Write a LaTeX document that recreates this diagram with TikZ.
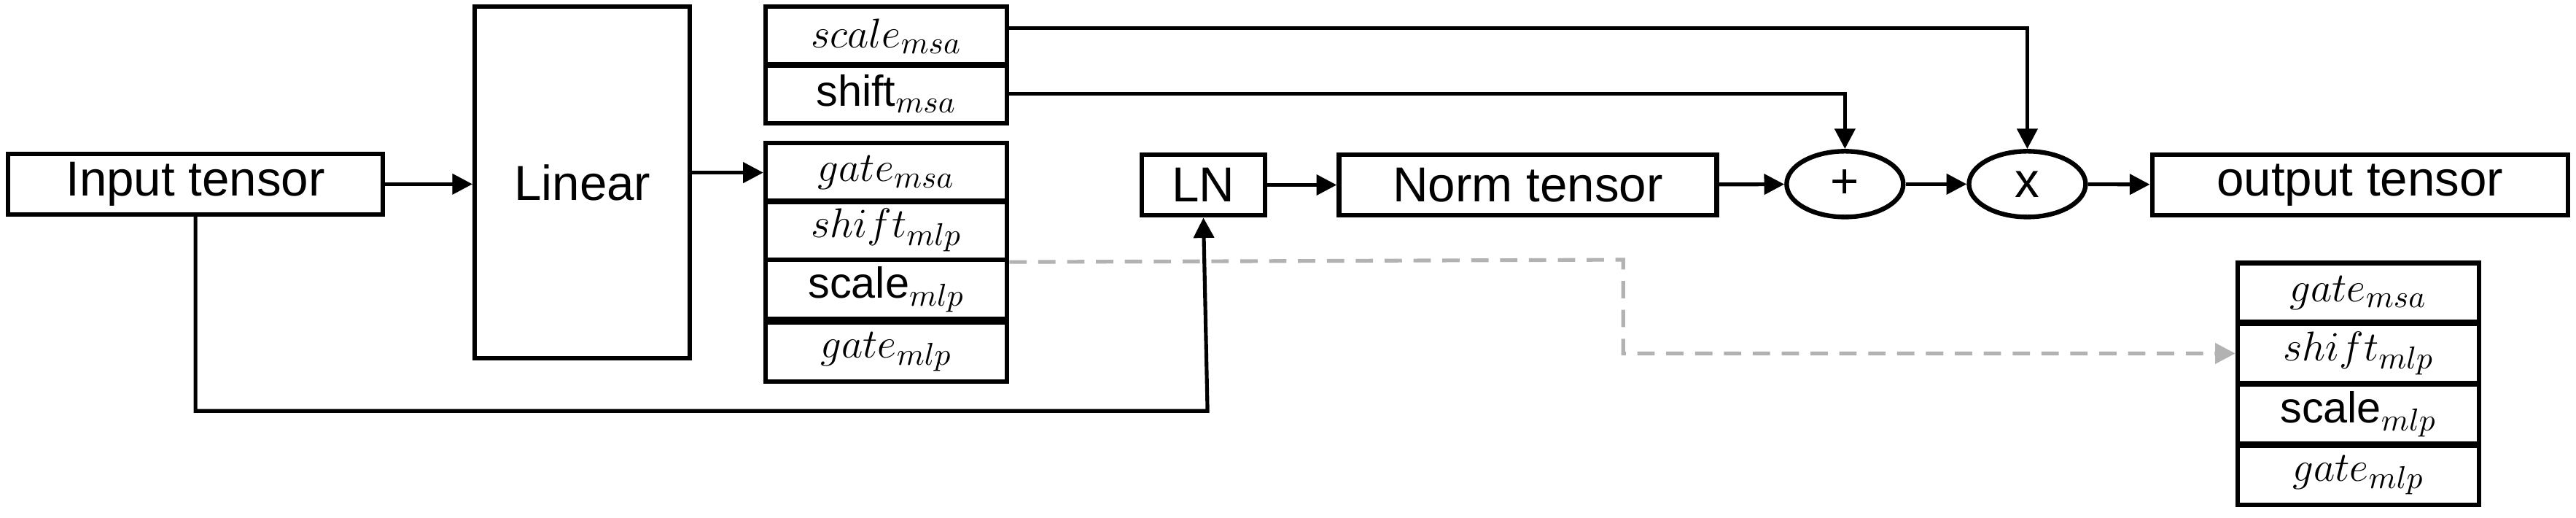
\documentclass[tikz,border=0pt]{standalone}
\usepackage{fontspec}
\setmainfont{Liberation Sans}
\usepackage{tikz}
\usetikzlibrary{arrows.meta, shapes.geometric, positioning, calc}

\tikzset{
    blk/.style={draw, line width=1.6pt, minimum height=0.74cm, inner sep=0pt, font=\fontsize{17}{20}\selectfont},
    prm/.style={draw, line width=1.6pt, minimum width=2.94cm, minimum height=0.72cm, inner sep=0pt, font=\fontsize{15}{18}\selectfont},
    op/.style={draw, ellipse, line width=1.6pt, minimum width=1.42cm, minimum height=0.8cm, inner sep=0pt, font=\fontsize{17}{20}\selectfont},
    arr/.style={line width=1.3pt, -{Triangle[length=7pt, width=7pt]}},
    dsh/.style={line width=1.3pt, gray!60, dash pattern=on 6pt off 4pt, -{Triangle[length=7pt, width=7pt]}}
}

\begin{document}
\begin{tikzpicture}[x=0.02cm, y=-0.02cm]
    \useasboundingbox (0,0) rectangle (1568,315);

    % Main row
    \node[blk, minimum width=4.56cm] (inp) at (119,112) {Input tensor};
    \node[blk, minimum width=2.62cm, minimum height=4.28cm] (lin) at (354.5,111) {Linear};
    \node[blk, minimum width=1.5cm] (ln) at (732.5,112.5) {LN};
    \node[blk, minimum width=4.6cm] (norm) at (930,112.5) {Norm tensor};
    \node[op] (add) at (1123,112) {+};
    \node[op] (mul) at (1234,112) {x};
    \node[blk, minimum width=5.06cm] (out) at (1436.5,112.5) {output tensor};

    % Modulation parameters
    \node[prm] (scmsa) at (539.5,22) {$scale_{msa}$};
    \node[prm] (shmsa) at (539.5,57) {shift$_{msa}$};
    \node[prm] (gmsa) at (539.5,105) {$gate_{msa}$};
    \node[prm] (shmlp) at (539.5,140) {$shift_{mlp}$};
    \node[prm] (scmlp) at (539.5,176) {scale$_{mlp}$};
    \node[prm] (gmlp) at (539.5,214) {$gate_{mlp}$};

    % Kept for the MLP branch
    \node[prm] (rgmsa) at (1435.5,178) {$gate_{msa}$};
    \node[prm] (rshmlp) at (1435.5,215) {$shift_{mlp}$};
    \node[prm] (rscmlp) at (1435.5,252) {scale$_{mlp}$};
    \node[prm] (rgmlp) at (1435.5,289) {$gate_{mlp}$};

    % Connections
    \coordinate (low) at (735,250);
    \coordinate (top) at (0,17);
    \coordinate (turn) at (988,158);
    \draw[arr] (inp) -- (lin.west |- inp);
    \draw[arr] (lin.east |- gmsa) -- (gmsa);
    \draw[arr] (inp.south) |- (low) -- (ln.south);
    \draw[arr] (ln) -- (norm);
    \draw[arr] (norm) -- (add);
    \draw[arr] (add) -- (mul);
    \draw[arr] (mul) -- (out);
    \draw[arr] (scmsa.east |- top) -| (mul.north);
    \draw[arr] (shmsa) -| (add.north);
    \draw[dsh] (shmlp.south east) -- (turn) |- (rshmlp.west);
\end{tikzpicture}
\end{document}
